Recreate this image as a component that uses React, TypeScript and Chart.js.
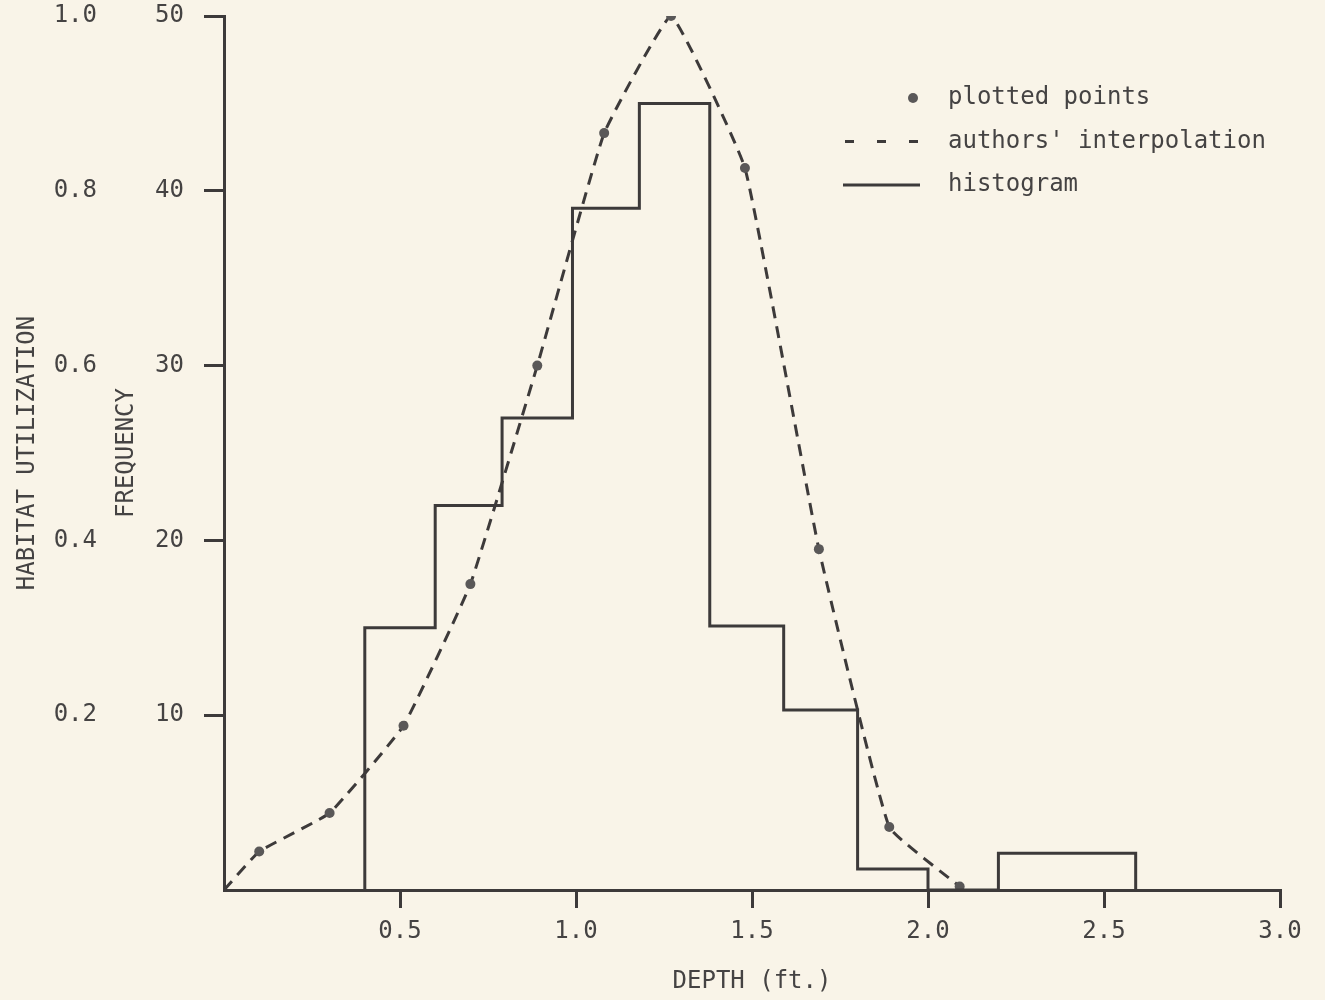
import React, { useEffect, useRef } from "react";
import { Chart, registerables } from "chart.js";

Chart.register(...registerables);

// Histogram: bin edges (ft) and frequency of each bin
const histEdges = [0.4, 0.6, 0.79, 0.99, 1.18, 1.38, 1.59, 1.8, 2.0, 2.2, 2.59];
const histCounts = [15, 22, 27, 39, 45, 15.1, 10.3, 1.2, 0, 2.1];

// Authors' interpolation (plotted points)
const pointDepths = [0, 0.1, 0.3, 0.51, 0.7, 0.89, 1.08, 1.27, 1.48, 1.69, 1.89, 2.09];
const pointFreqs = [0, 2.2, 4.4, 9.4, 17.5, 30, 43.3, 50, 41.3, 19.5, 3.6, 0.2];

// Axes
const xTitle = "DEPTH (ft.)";
const yTitle = "FREQUENCY";
const habTitle = "HABITAT UTILIZATION";
const legendLabels = ["plotted points", "authors' interpolation", "histogram"];

const INK = "#3d3a3a";
const TEXT = "#454343";
const DOT = "#5a5858";
const BG = "#f9f4e8";
const FONT = "'DejaVu Sans Mono', 'Liberation Mono', monospace";

export default function App() {
  const ref = useRef<HTMLCanvasElement | null>(null);

  useEffect(() => {
    if (!ref.current) return;
    const histData = [
      { x: histEdges[0], y: 0 },
      ...histCounts.map((c, i) => ({ x: histEdges[i], y: c })),
      { x: histEdges[histEdges.length - 1], y: 0 },
    ];
    const interpData = pointDepths.map((d, i) => ({ x: d, y: pointFreqs[i] }));

    const font = { family: FONT, size: 24 };

    const legendPlugin = {
      id: "manualLegend",
      afterDraw(chart: any) {
        const { ctx, chartArea } = chart;
        const tx = chartArea.left + 724;
        const y0 = chartArea.top + 82;
        const dy = 43.5;
        ctx.save();
        ctx.font = `24px ${FONT}`;
        ctx.fillStyle = TEXT;
        ctx.textBaseline = "middle";
        ctx.textAlign = "left";
        legendLabels.forEach((t, i) => ctx.fillText(t, tx, y0 + i * dy));
        // dot
        ctx.beginPath();
        ctx.fillStyle = DOT;
        ctx.arc(tx - 35, y0, 5, 0, Math.PI * 2);
        ctx.fill();
        // dashed
        ctx.strokeStyle = INK;
        ctx.lineWidth = 3;
        ctx.setLineDash([9, 23]);
        ctx.beginPath();
        ctx.moveTo(tx - 103, y0 + dy);
        ctx.lineTo(tx - 28, y0 + dy);
        ctx.stroke();
        // solid
        ctx.setLineDash([]);
        ctx.beginPath();
        ctx.moveTo(tx - 105, y0 + 2 * dy);
        ctx.lineTo(tx - 28, y0 + 2 * dy);
        ctx.stroke();
        ctx.restore();
      },
    };

    const fitVertical = (w: number) => (s: any) => {
      s.width = w;
      s.paddingTop = 0;
      s.paddingBottom = 0;
    };

    const chart = new Chart(ref.current, {
      type: "line",
      data: {
        datasets: [
          {
            label: "histogram",
            data: histData,
            borderColor: INK,
            borderWidth: 3,
            pointRadius: 0,
            stepped: "before",
            fill: false,
          },
          {
            label: "authors' interpolation",
            data: interpData,
            borderColor: INK,
            borderWidth: 3,
            borderDash: [12, 8],
            tension: 0.1,
            pointRadius: (c: any) => (c.dataIndex === 0 ? 0 : 5),
            pointBackgroundColor: DOT,
            pointBorderWidth: 0,
            fill: false,
          },
        ],
      },
      options: {
        animation: false,
        responsive: false,
        maintainAspectRatio: false,
        layout: { padding: { top: 16, right: 45, left: 0, bottom: 0 } },
        plugins: {
          legend: { display: false },
          tooltip: { enabled: false },
        },
        scales: {
          x: {
            type: "linear",
            min: 0,
            max: 3,
            ticks: {
              stepSize: 0.5,
              callback: (v: any) => (Number(v) === 0 ? "" : Number(v).toFixed(1)),
              font,
              color: TEXT,
              padding: 9,
              maxRotation: 0,
            },
            grid: {
              drawOnChartArea: false,
              drawTicks: true,
              tickLength: 18,
              lineWidth: 3,
              color: (c: any) => (c.tick && c.tick.value === 0 ? "rgba(0,0,0,0)" : INK),
            },
            border: { display: true, color: INK, width: 3 },
            title: {
              display: true,
              text: xTitle,
              font,
              color: TEXT,
              padding: { top: 0, bottom: 4 },
            },
            afterFit: (s: any) => {
              s.height = 110;
            },
          },
          y: {
            type: "linear",
            position: "left",
            weight: 0,
            min: 0,
            max: 50,
            ticks: {
              stepSize: 10,
              callback: (v: any) => (Number(v) === 0 ? "" : String(v)),
              font,
              color: TEXT,
              padding: 20,
            },
            grid: {
              drawOnChartArea: false,
              drawTicks: true,
              tickLength: 20,
              lineWidth: 3,
              color: (c: any) => (c.tick && c.tick.value === 0 ? "rgba(0,0,0,0)" : INK),
            },
            border: { display: true, color: INK, width: 3 },
            title: {
              display: true,
              text: yTitle,
              font,
              color: TEXT,
              padding: { top: 2, bottom: 0 },
            },
            afterFit: fitVertical(114),
          },
          hab: {
            type: "linear",
            position: "left",
            weight: 1,
            min: 0,
            max: 1,
            ticks: {
              stepSize: 0.2,
              callback: (v: any) => (Number(v) === 0 ? "" : Number(v).toFixed(1)),
              font,
              color: TEXT,
              padding: 13,
            },
            grid: { display: false, drawTicks: false, drawOnChartArea: false },
            border: { display: false },
            title: {
              display: true,
              text: habTitle,
              font,
              color: TEXT,
              padding: { top: 13, bottom: 0 },
            },
            afterFit: fitVertical(110),
          },
        },
      } as any,
      plugins: [legendPlugin],
    });
    return () => chart.destroy();
  }, []);

  return (
    <div
      style={{
        position: "fixed",
        left: 0,
        top: 0,
        width: 1325,
        height: 1000,
        background: BG,
      }}
    >
      <canvas ref={ref} width={1325} height={1000} style={{ display: "block" }} />
    </div>
  );
}
